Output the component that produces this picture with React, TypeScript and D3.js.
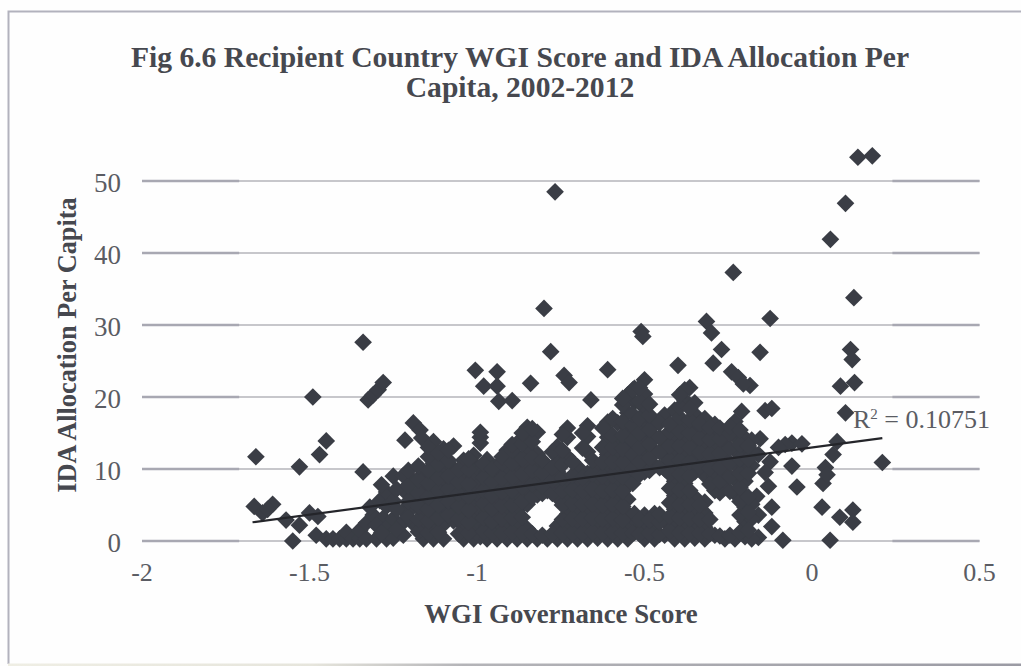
import React from "react";
import * as d3 from "d3";

const xTicks = [-2, -1.5, -1, -0.5, 0, 0.5];
const yTicks = [0, 10, 20, 30, 40, 50];
const titleLines = ["Fig 6.6 Recipient Country WGI Score and IDA Allocation Per", "Capita, 2002-2012"];
const trendStart = [-1.67, 2.6];
const trendEnd = [0.21, 14.3];

const upperPoints: [number, number][] = [
  [-0.767, 48.5], [-0.8, 32.3], [-0.78, 26.3], [-0.74, 23], [-0.725, 22], [-0.61, 23.8],
  [-1.005, 23.7], [-0.94, 23.5], [-0.98, 21.5], [-0.94, 21.5], [-0.935, 19.4], [-0.895, 19.5],
  [-0.84, 21.9], [-0.66, 19.6], [-1.34, 27.6], [-1.325, 19.6], [-1.31, 20.3], [-1.295, 21], [-1.28, 22],
  [0.137, 53.3], [0.18, 53.5], [0.1, 46.9], [0.055, 41.9], [0.125, 33.8], [-0.235, 37.3],
  [-0.125, 30.9], [-0.315, 30.5], [-0.3, 28.9], [-0.51, 29.1], [-0.505, 28.4], [-0.27, 26.6],
  [-0.155, 26.2], [0.115, 26.6], [0.12, 25.2], [0.127, 22], [0.085, 21.5], [-0.295, 24.7],
  [-0.24, 23.5], [-0.22, 22.7], [-0.185, 21.6], [-0.205, 21.8], [-0.4, 24.4], [-0.365, 21.3],
  [0.1, 17.8], [-0.14, 18.1], [-0.12, 18.4], [-0.21, 18],
];

const leftTailPoints: [number, number][] = [
  [-1.66, 11.7], [-1.665, 4.8], [-1.64, 3.9], [-1.61, 5.1], [-1.625, 4.4], [-1.57, 2.9], [-1.53, 2.2],
  [-1.55, 0], [-1.53, 10.3], [-1.49, 20], [-1.47, 12], [-1.45, 13.9], [-1.5, 3.9], [-1.475, 3.4],
  [-1.48, 0.8], [-1.34, 9.6], [-1.19, 16.4], [-1.17, 15.4], [-1.215, 14], [-1.165, 14.3],
  [-1.45, 0.3], [-1.43, 0.3], [-1.41, 0.3], [-1.39, 0.3], [-1.39, 1.2], [-1.37, 0.3], [-1.35, 0.3], [-1.35, 1.5],
  [-1.33, 0.3], [-1.33, 2.5], [-1.31, 3.6], [-1.32, 4.7], [-1.28, 3.2], [-1.29, 5.6],
];

const rightTailPoints: [number, number][] = [
  [0.075, 13.8], [0.063, 12], [0.04, 10.2], [0.033, 8], [0.03, 4.7], [0.083, 3.3], [0.122, 4.3],
  [0.122, 2.6], [0.054, 0.1], [-0.087, 0.1], [-0.045, 7.5], [-0.06, 10.4], [-0.06, 13.6], [-0.08, 13.4],
  [-0.03, 13.5], [0.21, 10.9], [0.045, 9.2], [-0.13, 7.6], [-0.12, 4.7], [-0.12, 2], [-0.16, 0.5],
  [-0.1, 13], [-0.125, 11], [-0.14, 9.5], [-0.155, 14.2], [-0.16, 12], [-0.165, 6.2], [-0.16, 3.6],
];

const cloudColumns: [number, number[]][] = [
  [-1.3, [0.3, 2.2]],
  [-1.27, [0.3, 1.8, 4.8, 6.8]],
  [-1.25, [0.4, 3.1, 5.6, 9]],
  [-1.22, [0.8, 2.6, 4.2, 7.1, 9.1]],
  [-1.19, [2.4, 4.8, 6.2, 8.4]],
  [-1.16, [0.3, 2.1, 3.9, 5.7, 7.6, 9.4]],
  [-1.13, [0.3, 1.9, 3.6, 5.2, 7.1, 8.9, 10.8, 12.4, 13.8]],
  [-1.1, [0.3, 2.3, 4.1, 6, 7.9, 9.6, 11.6, 12.8]],
  [-1.07, [2.8, 4.8, 6.4, 8.1, 10.1, 13.2]],
  [-1.04, [0.3, 2.1, 3.9, 5.5, 7.3, 8.9, 11.2]],
  [-1.01, [0.3, 1.8, 3.4, 5.2, 7, 8.9, 10.8, 11.9]],
  [-0.99, [0.6, 2.4, 4.3, 6.1, 8, 9.8, 13.6, 14.4, 15.1]],
  [-0.97, [0.3, 2, 3.9, 5.7, 7.6, 9.5, 11.3]],
  [-0.94, [0.3, 1.9, 3.5, 5.3, 7.1, 9, 10.4]],
  [-0.91, [0.3, 2.2, 4, 5.8, 7.7, 9.5, 11.4, 12.6]],
  [-0.88, [0.3, 2.4, 4.2, 6, 8, 9.8, 11.8, 13.6]],
  [-0.85, [0.3, 1.7, 5.1, 6.9, 8.8, 10.6, 12.9, 14.2, 15.8]],
  [-0.82, [0.3, 6.4, 8.2, 10.2, 12.1, 15.1]],
  [-0.79, [0.3, 7, 8.7, 10.4]],
  [-0.76, [0.3, 2.1, 6.1, 7.9, 9.7, 11.7, 13.1]],
  [-0.73, [0.3, 1.9, 3.7, 5.6, 8.4, 11.7, 14.4, 15.7]],
  [-0.7, [0.3, 2.3, 4.3, 6.4, 7.8, 10.3]],
  [-0.67, [0.3, 1.9, 3.8, 5.7, 7.6, 9.4, 12.4, 14.5, 16]],
  [-0.64, [0.4, 2.4, 4.4, 6.3, 8.4, 10.3]],
  [-0.61, [0.3, 2, 3.9, 5.9, 7.9, 10, 12, 14.4, 15.2, 16.5]],
  [-0.58, [0.3, 2.2, 4.2, 6.1, 8.1, 10.1, 11.7, 13.5, 16.4]],
  [-0.55, [0.3, 1.9, 3.8, 5.8, 7.8, 9.8, 11.8, 13.8, 15.7, 17.8, 20.3]],
  [-0.53, [1.2, 3, 3.8, 9, 11, 13, 15, 19.3, 21.2]],
  [-0.5, [0.3, 2.1, 3.6, 9.6, 10.1, 12, 14, 16, 18.5, 20.4, 22.4]],
  [-0.47, [0.3, 2, 3.8, 10.5, 12.5, 14.5, 16.5]],
  [-0.44, [0.8, 2.8, 10, 11.9, 13.9, 17.5]],
  [-0.41, [0.3, 2.4, 4.4, 6.3, 8.3, 10.3, 12.3, 14.3, 16.4, 18.2]],
  [-0.38, [0.3, 2, 4, 6, 8, 10, 12, 14, 16, 19.6, 21]],
  [-0.35, [0.4, 2.3, 4.2, 6.1, 9.6, 11.6, 13.6, 15.6, 17.6, 19.2]],
  [-0.32, [0.3, 1.9, 3.9, 5.4, 9.1, 11.1, 13.1, 15, 17]],
  [-0.29, [0.8, 7, 9, 11, 12.9, 14.9, 16.2]],
  [-0.26, [0.3, 7.4, 9.4, 11.4, 13.3, 15.1]],
  [-0.23, [0.3, 6.6, 8.6, 10.6, 12.6, 14.6, 16.6]],
  [-0.2, [0.6, 2.7, 4.7, 6.3, 8.3, 10.3, 12.3, 14.3]],
  [-0.18, [0.3, 3.1, 5.1, 10.5, 12.5, 14]],
];

const infillColumns: [number, number[]][] = [
  [-1.285, [1.1, 7.8]],
  [-1.24, [1.6, 4.4, 7.2]],
  [-1.205, [3.3, 5.5, 7.6, 9.8]],
  [-1.175, [1.3, 3, 4.8, 6.7, 8.5, 10.4]],
  [-1.145, [1.1, 2.8, 4.4, 6.1, 8, 9.8, 11.7, 13]],
  [-1.115, [1.2, 3.2, 5, 7, 8.8, 10.7, 12.2]],
  [-1.085, [3.6, 5.5, 7.2, 9, 11.2, 12.6]],
  [-1.055, [1, 3.1, 4.8, 6.6, 8.2, 9.9]],
  [-1.025, [1.1, 2.6, 4.3, 6.2, 7.9, 9.9, 11.4]],
  [-0.98, [1.3, 3.2, 5.2, 7, 8.8, 10.7]],
  [-0.955, [1.1, 2.7, 4.5, 6.3, 8.2, 10]],
  [-0.925, [1.1, 3.1, 4.9, 6.8, 8.7, 10.8, 11.7]],
  [-0.895, [1.2, 3.2, 5, 7, 8.9, 10.8, 12.6, 13.4]],
  [-0.865, [1.1, 3.3, 5.5, 7.5, 9.3, 11.4, 13.5, 15]],
  [-0.835, [1, 6.1, 7.9, 9.8, 11.6, 13.8, 15.6]],
  [-0.805, [0.8, 6.6, 7.6, 9.4, 11.2]],
  [-0.775, [1, 6.6, 8.4, 10.2, 12.4]],
  [-0.745, [1.1, 3, 5, 7, 8.8, 10.6, 12.6, 14.8]],
  [-0.715, [1.1, 3.1, 5.2, 7.1, 9.1, 11]],
  [-0.685, [1.1, 3.1, 5.1, 7, 8.8, 12.9, 15]],
  [-0.655, [1.2, 3.2, 5.1, 7.2, 9.3, 11.2]],
  [-0.625, [1.1, 3, 5, 7, 9, 11, 13, 15.7]],
  [-0.595, [1.2, 3.1, 5.1, 7.1, 9.1, 11, 13, 14.7, 17]],
  [-0.565, [1.1, 2.9, 4.8, 6.9, 8.9, 10.9, 12.8, 14.7, 16.6, 18.9, 19.8]],
  [-0.535, [1.1, 8, 10, 12, 14, 16, 17.6, 21]],
  [-0.515, [1, 3, 9.2, 11, 13, 15, 17, 19.4, 21.3]],
  [-0.485, [1.1, 2.9, 9.8, 11.5, 13.5, 15.5, 17.5, 19]],
  [-0.455, [0.9, 2.6, 3.7, 10.2, 12.4, 14.4, 16.4]],
  [-0.425, [1.4, 3.4, 5.3, 7.3, 9.3, 11.2, 13.2, 15.2, 16.2]],
  [-0.395, [1.1, 3.2, 5, 7.1, 9.2, 11.2, 13.2, 15.2, 17.2, 18.6, 20.3]],
  [-0.365, [1.1, 3.1, 5.1, 7, 9, 11, 13, 15, 16.8, 18.4]],
  [-0.335, [1.1, 3, 5, 10.3, 12.3, 14.3, 16.3]],
  [-0.305, [1, 3, 7.9, 10.1, 12.1, 14.1, 15.8]],
  [-0.275, [0.7, 6.7, 8.3, 10.2, 12.2, 14.2, 15.7]],
  [-0.245, [0.8, 6.9, 8.9, 10.9, 12.9, 14.9, 15.9]],
  [-0.215, [1.2, 3.6, 5.5, 7.4, 9.4, 11.4, 13.4, 15.4]],
  [-0.19, [1.5, 4, 6.1, 9.4, 11.4, 13.2]],
];

const allPoints = [
  ...upperPoints,
  ...leftTailPoints,
  ...rightTailPoints,
  ...[...cloudColumns, ...infillColumns].flatMap(([x, ys]) => ys.map((y) => [x, y] as [number, number])),
];

const x = d3.scaleLinear().domain([-2, 0.5]).range([142, 979.5]);
const y = d3.scaleLinear().domain([0, 50]).range([541, 181]);
const diamond = d3.symbol().type(d3.symbolSquare).size(156)();
const gridEdge: [number, number][] = [[-2, -1.71], [0.24, 0.5]];
const serif = "'Liberation Serif', 'Times New Roman', serif";
const markColor = "#3a3d45";
const textColor = "#5a5c63";
const boldColor = "#46484f";

export default function App() {
  const trend = d3.line()([
    [x(trendStart[0]), y(trendStart[1])],
    [x(trendEnd[0]), y(trendEnd[1])],
  ])!;
  return (
    <svg
      width={1021}
      height={666}
      viewBox="0 0 1021 666"
      style={{ position: "absolute", left: 0, top: 0, background: "#fefefe" }}
      fontFamily={serif}
    >
      <defs>
        <linearGradient id="bottomEdge" x1="0" x2="1" y1="0" y2="0">
          <stop offset="0" stopColor="#efeee4" />
          <stop offset="0.3" stopColor="#e6e5dc" />
          <stop offset="0.45" stopColor="#b4b4b8" />
          <stop offset="1" stopColor="#9b9ba4" />
        </linearGradient>
      </defs>
      <path d="M8.5,664 V11.5 H1021" fill="none" stroke="#b2b2bd" strokeWidth={2} />
      <rect x={8} y={663.5} width={1013} height={2.5} fill="url(#bottomEdge)" />
      {yTicks.map((t) => (
        <g key={t}>
          <line x1={x(-2)} x2={x(0.5)} y1={y(t)} y2={y(t)} stroke="#b4b4ba" strokeWidth={1.5} />
          {gridEdge.map(([a, b]) => (
            <line key={a} x1={x(a)} x2={x(b)} y1={y(t)} y2={y(t)} stroke="#a8a8b2" strokeWidth={2.5} />
          ))}
          <text x={121} y={y(t) + 11} textAnchor="end" fontSize={27} fill={textColor}>{t}</text>
        </g>
      ))}
      {xTicks.map((t) => (
        <text key={t} x={x(t)} y={581} textAnchor="middle" fontSize={26} fill={textColor}>{t}</text>
      ))}
      {allPoints.map(([a, b], i) => (
        <path key={i} d={diamond} transform={`translate(${x(a)},${y(b)}) rotate(45)`} fill={markColor} />
      ))}
      <path d={trend} stroke="#24252a" strokeWidth={2.2} fill="none" />
      <text x={853} y={428} fontSize={26} fill={textColor}>
        R<tspan fontSize={15} dy={-9}>2</tspan><tspan dy={9}> = 0.10751</tspan>
      </text>
      {titleLines.map((line, i) => (
        <text key={line} x={520} y={67 + i * 30} textAnchor="middle" fontSize={29.6} fontWeight="bold" fill={boldColor}>{line}</text>
      ))}
      <text x={561} y={623} textAnchor="middle" fontSize={26.8} fontWeight="bold" fill={boldColor}>WGI Governance Score</text>
      <text transform="translate(76,345) rotate(-90)" textAnchor="middle" fontSize={26.3} fontWeight="bold" fill={boldColor}>IDA Allocation Per Capita</text>
    </svg>
  );
}
